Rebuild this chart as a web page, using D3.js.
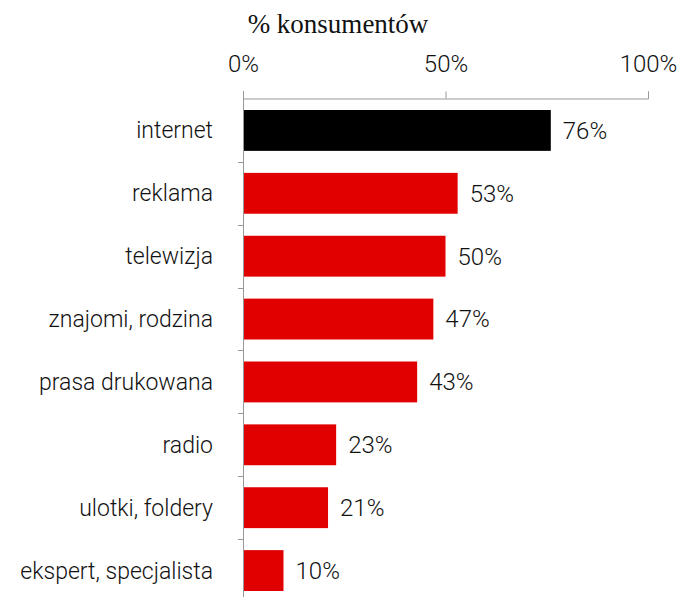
<!DOCTYPE html>
<html>
<head>
<meta charset="utf-8">
<script src="https://cdn.jsdelivr.net/npm/d3@7"></script>
<style>
  body { margin: 0; background: #fff; }
  svg text { font-family: Roboto, "Liberation Sans", sans-serif; font-weight: 300; fill: #111; }
</style>
</head>
<body>
<svg width="684" height="597"></svg>
<script>
// data
var categories = ['internet', 'reklama', 'telewizja', 'znajomi, rodzina', 'prasa drukowana', 'radio', 'ulotki, foldery', 'ekspert, specjalista'];
var values = [76, 53, 50, 47, 43, 23, 21, 10];
var tickValues = [0, 50, 100];

var svg = d3.select('svg');

var x = d3.scaleLinear().domain([0, 100]).range([243, 648]);
var y = d3.scaleBand().domain(categories).range([99, 602])
  .paddingInner(0.35).paddingOuter(0.175);

// title
svg.append('text')
   .attr('x', 338)
   .attr('y', 33)
   .attr('text-anchor', 'middle')
   .style('font-family', '"Liberation Serif", serif')
   .style('font-weight', 400)
   .style('font-size', '27px')
   .text('% konsumentów');

// top axis
var xAxis = svg.append('g')
   .attr('transform', 'translate(0,98.5)')
   .call(d3.axisTop(x).tickValues(tickValues).tickSize(7).tickPadding(20)
     .tickFormat(function (d) { return d + '%'; }));
xAxis.select('.domain').attr('stroke', '#999');
xAxis.selectAll('.tick line').attr('stroke', '#999');
xAxis.selectAll('.tick text')
   .style('font-size', '24px')
   .attr('fill', '#111');

// vertical axis line
svg.append('line')
   .attr('x1', 243.5)
   .attr('x2', 243.5)
   .attr('y1', 91)
   .attr('y2', 597)
   .attr('stroke', '#999');

// little ticks between the bars
var step = y.step();
for (var i = 1; i < categories.length; i++) {
  var ty = Math.round(y(categories[i]) - step * y.paddingInner() / 2) + 0.5;
  svg.append('line')
     .attr('x1', 238)
     .attr('x2', 243)
     .attr('y1', ty)
     .attr('y2', ty)
     .attr('stroke', '#999');
}

// bars
svg.selectAll('rect.bar')
   .data(values)
   .enter()
   .append('rect')
   .attr('class', 'bar')
   .attr('x', x(0) + 1)
   .attr('y', function (d, i) { return y(categories[i]); })
   .attr('width', function (d) { return x(d) - x(0) - 1; })
   .attr('height', y.bandwidth())
   .attr('fill', function (d, i) { return i === 0 ? '#000' : '#e10000'; });

// category labels
svg.selectAll('text.cat')
   .data(categories)
   .enter()
   .append('text')
   .attr('class', 'cat')
   .attr('x', 213)
   .attr('y', function (d) { return y(d) + y.bandwidth() / 2; })
   .attr('dy', '0.35em')
   .attr('text-anchor', 'end')
   .style('font-size', '23px')
   .text(function (d) { return d; });

// value labels
svg.selectAll('text.val')
   .data(values)
   .enter()
   .append('text')
   .attr('class', 'val')
   .attr('x', function (d) { return x(d) + 12; })
   .attr('y', function (d, i) { return y(categories[i]) + y.bandwidth() / 2; })
   .attr('dy', '0.35em')
   .style('font-size', '24px')
   .text(function (d) { return d + '%'; });
</script>
</body>
</html>
